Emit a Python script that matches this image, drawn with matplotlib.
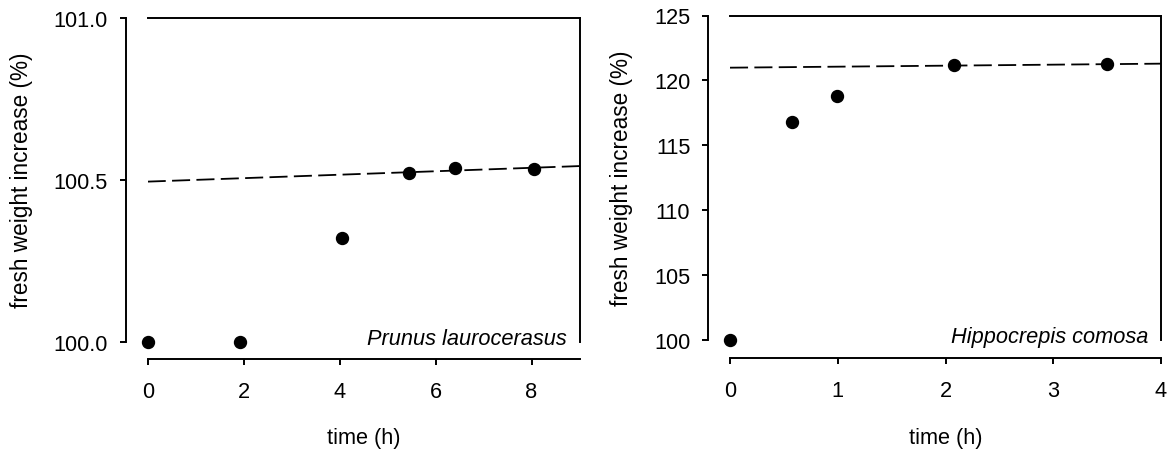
import matplotlib
matplotlib.use("Agg")
import matplotlib.pyplot as plt

plt.rcParams['font.family'] = ['Liberation Sans', 'DejaVu Sans']

# Prunus laurocerasus
prunus_t = [0.0, 1.92, 4.06, 5.45, 6.41, 8.05]
prunus_w = [100.0, 100.0, 100.321, 100.521, 100.536, 100.534]
prunus_fit_t = [0.0, 9.0]
prunus_fit_w = [100.495, 100.543]

# Hippocrepis comosa
hippo_t = [0.0, 0.58, 0.99, 2.08, 3.5]
hippo_w = [100.0, 116.76, 118.8, 121.16, 121.29]
hippo_fit_t = [0.0, 4.0]
hippo_fit_w = [120.98, 121.29]

FS = 15.7
W, H = 1168, 452
fig = plt.figure(figsize=(W / 100, H / 100), dpi=100)

def px_axes(x0, x1, ytop, ybot):
    return fig.add_axes([x0 / W, 1 - ybot / H, (x1 - x0) / W, (ybot - ytop) / H])

def style(ax, left_off, bot_off):
    ax.spines['left'].set_position(('outward', left_off))
    ax.spines['bottom'].set_position(('outward', bot_off))
    for s in ax.spines.values():
        s.set_linewidth(1.4)
    ax.tick_params(axis='both', direction='out', length=4, width=1.4, labelsize=FS)
    ax.tick_params(axis='x', pad=12)
    ax.tick_params(axis='y', pad=9)

ax1 = px_axes(147.7, 579.5, 19, 343)
ax1.plot(prunus_fit_t, prunus_fit_w, color='black', lw=1.3, dashes=(10, 3.5))
ax1.plot(prunus_t, prunus_w, 'o', color='black', ms=8.6, clip_on=False, zorder=3)
ax1.set_xlim(0, 9)
ax1.set_ylim(100.0, 101.0)
ax1.set_xticks([0, 2, 4, 6, 8])
ax1.set_yticks([100.0, 100.5, 101.0])
ax1.set_yticklabels(['100.0', '100.5', '101.0'])
style(ax1, 15.6, 12.2)
ax1.set_xlabel('time (h)', fontsize=FS)
ax1.set_ylabel('fresh weight increase (%)', fontsize=16.3)
ax1.xaxis.set_label_coords(0.5, -0.262)
ax1.yaxis.set_label_coords(-0.265, 0.503)
ax1.text(0.970, -0.006, 'Prunus laurocerasus', style='italic', fontsize=FS,
         ha='right', va='baseline', transform=ax1.transAxes)

ax2 = px_axes(730, 1161, 16.5, 341)
ax2.plot(hippo_fit_t, hippo_fit_w, color='black', lw=1.3, dashes=(10, 3.5))
ax2.plot(hippo_t, hippo_w, 'o', color='black', ms=8.6, clip_on=False, zorder=3)
ax2.set_xlim(0, 4)
ax2.set_ylim(100, 125)
ax2.set_xticks([0, 1, 2, 3, 4])
ax2.set_yticks([100, 105, 110, 115, 120, 125])
style(ax2, 15.6, 13.0)
ax2.set_xlabel('time (h)', fontsize=FS)
ax2.set_ylabel('fresh weight increase (%)', fontsize=16.3)
ax2.xaxis.set_label_coords(0.5, -0.268)
ax2.yaxis.set_label_coords(-0.225, 0.5)
ax2.text(0.9706, -0.007, 'Hippocrepis comosa', style='italic', fontsize=FS,
         ha='right', va='baseline', transform=ax2.transAxes)

fig.savefig('out.png', dpi=100)
